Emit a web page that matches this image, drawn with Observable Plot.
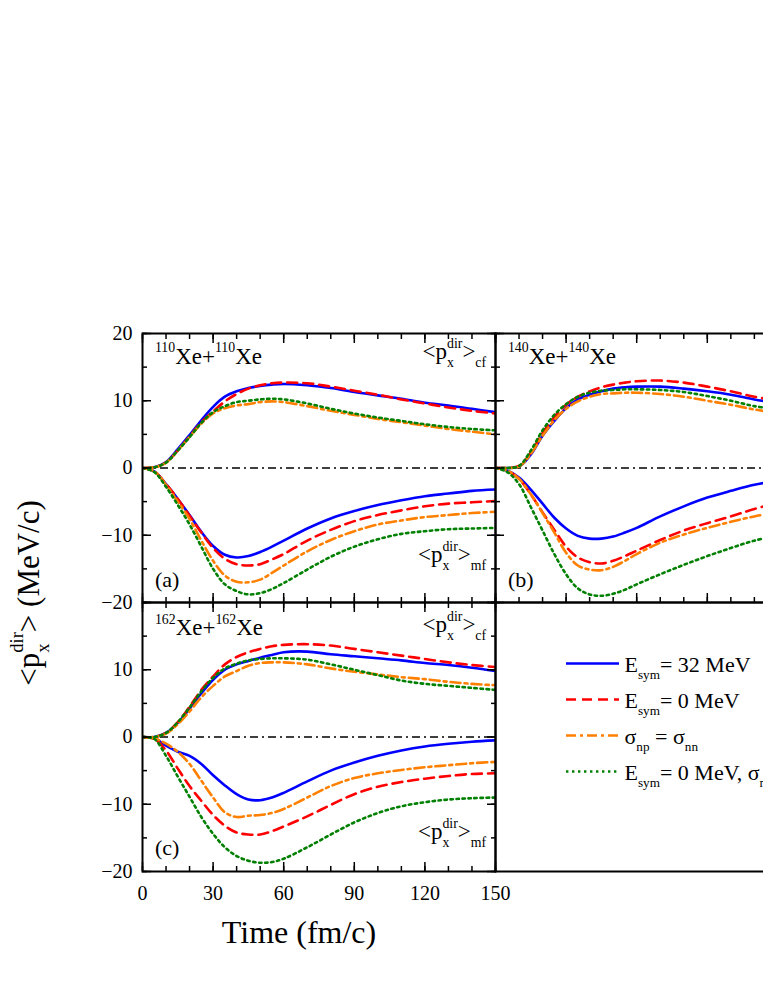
<!DOCTYPE html>
<html><head><meta charset="utf-8">
<script src="https://cdn.jsdelivr.net/npm/d3@7"></script>
<script src="https://cdn.jsdelivr.net/npm/@observablehq/plot@0.6"></script>
<style>
html,body{margin:0;padding:0;background:#fff;overflow:hidden;}
#chart{position:relative;width:763px;height:987px;overflow:hidden;background:#fff;}
#chart svg{position:absolute;left:0;top:0;}
#chart svg, #chart svg text, #chart svg tspan{font-family:"Liberation Serif","Times New Roman",serif !important;}
</style></head><body><div id="chart"></div>
<script>
// ---------------- data ----------------
const T_AC = [0,5,10,15,20,25,30,35,40,45,50,55,60,70,80,90,100,110,120,130,140,150];
const T_B  = [0,5,10,15,20,25,30,35,40,45,50,55,60,70,80,90,100,110,120];

const a_cf_esym32 = [0,0.1,0.9,2.8,4.9,7.1,9.1,10.6,11.4,11.9,12.2,12.4,12.5,12.3,11.9,11.3,10.8,10.3,9.7,9.3,8.8,8.3];
const a_cf_esym0  = [0,0.1,0.8,2.6,4.7,6.8,8.4,9.9,11.0,11.8,12.3,12.6,12.7,12.6,12.1,11.5,10.9,10.2,9.6,9.0,8.5,8.1];
const a_cf_sigma  = [0,0.1,0.8,2.6,4.6,6.6,8.1,8.9,9.3,9.5,9.8,9.9,9.8,9.2,8.5,7.9,7.3,6.8,6.3,5.8,5.4,5.0];
const a_cf_both   = [0,0.1,0.8,2.6,4.6,6.7,8.3,9.2,9.8,10.0,10.2,10.3,10.2,9.6,8.8,8.1,7.5,7.0,6.5,6.1,5.8,5.6];
const a_mf_esym32 = [0,-0.5,-2.4,-4.6,-7.0,-9.5,-11.6,-12.9,-13.3,-13.1,-12.5,-11.7,-10.8,-9.0,-7.5,-6.4,-5.5,-4.8,-4.2,-3.8,-3.4,-3.2];
const a_mf_esym0  = [0,-0.5,-2.4,-4.6,-7.1,-9.6,-11.9,-13.5,-14.3,-14.5,-14.3,-13.6,-12.8,-10.8,-9.2,-7.9,-7.0,-6.3,-5.7,-5.3,-5.1,-4.9];
const a_mf_sigma  = [0,-0.5,-2.5,-5.0,-7.6,-10.8,-13.8,-16.0,-16.9,-17.0,-16.6,-15.6,-14.5,-12.4,-10.7,-9.4,-8.4,-7.8,-7.3,-7.0,-6.7,-6.5];
const a_mf_both   = [0,-0.6,-2.8,-5.5,-8.4,-11.7,-15.0,-17.3,-18.3,-18.8,-18.6,-18.0,-17.1,-15.1,-13.2,-11.7,-10.6,-9.8,-9.4,-9.1,-9.0,-8.9];

const b_cf_esym32 = [0,0,0.2,2.0,4.8,7.0,8.9,10.2,10.9,11.4,11.8,12.0,12.1,12.1,11.8,11.4,10.9,10.2,9.6];
const b_cf_esym0  = [0,0,0.3,2.3,5.2,7.6,9.4,10.6,11.4,12.0,12.4,12.7,12.9,13.0,12.7,12.1,11.4,10.6,10.0];
const b_cf_sigma  = [0,0,0.2,2.1,4.8,7.1,8.8,9.9,10.6,11.0,11.1,11.2,11.2,11.0,10.6,10.0,9.4,8.7,8.2];
const b_cf_both   = [0,0,0.3,2.6,5.6,7.9,9.5,10.6,11.2,11.5,11.6,11.7,11.7,11.6,11.3,10.7,10.0,9.2,8.7];
const b_mf_esym32 = [0,-0.4,-1.4,-3.2,-5.3,-7.4,-9.0,-10.1,-10.5,-10.5,-10.2,-9.6,-8.9,-7.2,-5.7,-4.4,-3.4,-2.5,-1.9];
const b_mf_esym0  = [0,-0.4,-1.6,-3.9,-6.6,-9.2,-11.7,-13.3,-14.0,-14.2,-13.8,-13.1,-12.3,-10.7,-9.3,-8.2,-7.2,-6.1,-5.1];
const b_mf_sigma  = [0,-0.4,-1.6,-3.9,-6.7,-9.6,-12.6,-14.5,-15.1,-15.2,-14.7,-13.8,-12.8,-11.1,-9.9,-8.9,-8.0,-7.2,-6.6];
const b_mf_both   = [0,-0.6,-2.4,-5.8,-9.3,-12.8,-15.8,-17.9,-18.8,-19.0,-18.7,-18.1,-17.3,-15.8,-14.4,-13.1,-11.9,-10.8,-10.0];

const c_cf_esym32 = [0,0,0.6,2.1,4.2,6.5,8.5,10.0,10.8,11.3,11.8,12.2,12.6,12.7,12.3,12.0,11.7,11.4,11.0,10.7,10.3,9.8];
const c_cf_esym0  = [0,0,0.6,2.2,4.5,7.0,9.0,10.8,11.9,12.6,13.1,13.5,13.7,13.8,13.6,13.1,12.6,12.1,11.6,11.1,10.7,10.4];
const c_cf_sigma  = [0,0,0.5,1.9,3.8,5.9,7.6,9.0,9.8,10.6,11.0,11.1,11.1,10.8,10.2,9.7,9.3,8.9,8.6,8.2,7.9,7.7];
const c_cf_both   = [0,0,0.6,2.2,4.4,6.8,8.8,10.2,10.9,11.4,11.6,11.7,11.7,11.5,10.8,10.0,9.2,8.4,7.9,7.6,7.3,7.0];
const c_mf_esym32 = [0,-0.2,-1.3,-2.2,-2.8,-4.0,-5.7,-7.2,-8.5,-9.3,-9.4,-9.0,-8.3,-6.6,-5.0,-3.8,-2.8,-2.0,-1.4,-1.0,-0.7,-0.5];
const c_mf_esym0  = [0,-0.3,-2.0,-4.7,-7.3,-9.5,-11.6,-13.2,-14.2,-14.5,-14.5,-14.0,-13.3,-11.8,-10.1,-8.5,-7.4,-6.7,-6.2,-5.8,-5.5,-5.4];
const c_mf_sigma  = [0,-0.2,-1.0,-2.2,-4.0,-6.5,-9.0,-11.2,-11.9,-11.7,-11.6,-11.3,-10.7,-9.0,-7.3,-6.1,-5.4,-4.9,-4.5,-4.2,-3.9,-3.7];
const c_mf_both   = [0,-0.3,-2.8,-5.9,-8.9,-11.9,-14.4,-16.4,-17.7,-18.4,-18.7,-18.6,-18.1,-16.4,-14.5,-12.7,-11.3,-10.3,-9.7,-9.3,-9.1,-9.0];

const seriesKeys   = ["esym32", "esym0", "sigma", "both"];
const legendLabels = ["E_{sym}= 32 MeV", "E_{sym}= 0 MeV", "σ_{np} = σ_{nn}", "E_{sym}= 0 MeV, σ_{np} = σ_{nn}"];
const panelTitles  = ["^{110}Xe+^{110}Xe", "^{140}Xe+^{140}Xe", "^{162}Xe+^{162}Xe"];
const panelTags    = ["(a)", "(b)", "(c)"];
const cfLabel = "<p_{x}^{dir}>_{cf}";
const mfLabel = "<p_{x}^{dir}>_{mf}";
const yTitle = "<p_{x}^{dir}> (MeV/c)";
const xTitle = "Time (fm/c)";
const xTicksMajor = [0, 30, 60, 90, 120, 150];
const yTicksMajor = [-20, -10, 0, 10, 20];

// ---------------- layout / styles ----------------
const W = 900, H = 987;
const X0 = 142, X1 = 495, X2 = 848;
const Y0 = 333, Y1 = 602, Y2 = 871;
const FONT = "'Liberation Serif', 'Times New Roman', serif";
const styles = {
  esym32: {stroke: "#0000ff", dash: null},
  esym0:  {stroke: "#ff0000", dash: "10,6"},
  sigma:  {stroke: "#ff8000", dash: "10,4,3,4"},
  both:   {stroke: "#008000", dash: "2.4,3.6"}
};
const svgStyle = {background: "transparent", overflow: "visible", maxWidth: "none", fontFamily: FONT, fontSize: "20px"};

function panel({left, right, top, bottom, t, cf, mf, title, tag, yLabels, xLabels, titleY, cfY, mfY, tagY, sideLabels = true, extra = []}) {
  const marks = [
    Plot.ruleY([0], {stroke: "black", strokeWidth: 1.5, strokeDasharray: "8,4,2,4"})
  ];
  seriesKeys.forEach((k, i) => {
    for (const arr of [cf[i], mf[i]]) {
      marks.push(Plot.line(t, {x: t, y: arr, stroke: styles[k].stroke, strokeWidth: 2.6,
        strokeDasharray: styles[k].dash, curve: "catmull-rom", clip: true}));
    }
  });
  // inward ticks on all four sides
  for (const anchor of ["left", "right"]) {
    marks.push(Plot.axisY(d3.range(-20, 21, 5), {anchor, tickSize: -5, fill: "none", strokeWidth: 1.5}));
    marks.push(Plot.axisY(yTicksMajor, {anchor, tickSize: -9, fill: "none", strokeWidth: 1.5}));
  }
  for (const anchor of ["top", "bottom"]) {
    marks.push(Plot.axisX(d3.range(0, 151, 10), {anchor, tickSize: -5, fill: "none", strokeWidth: 1.5}));
    marks.push(Plot.axisX(xTicksMajor, {anchor, tickSize: -9, fill: "none", strokeWidth: 1.5}));
  }
  if (yLabels) marks.push(Plot.axisY(yLabels, {anchor: "left", tickSize: 0, tickPadding: 10, fontSize: 20, label: null}));
  if (xLabels) marks.push(Plot.axisX(xLabels, {anchor: "bottom", tickSize: 0, tickPadding: 14, fontSize: 20, label: null}));
  marks.push(Plot.frame({strokeWidth: 2}));
  marks.push(Plot.text([title], {x: () => 5.3, y: () => titleY, text: d => d, textAnchor: "start", lineAnchor: "bottom", fontSize: 23}));
  marks.push(Plot.text([tag], {x: () => 5.3, y: () => tagY, text: d => d, textAnchor: "start", lineAnchor: "bottom", fontSize: 22}));
  if (sideLabels) {
    marks.push(Plot.text([cfLabel], {x: () => 146, y: () => cfY, text: d => d, textAnchor: "end", lineAnchor: "bottom", fontSize: 23}));
    marks.push(Plot.text([mfLabel], {x: () => 146, y: () => mfY, text: d => d, textAnchor: "end", lineAnchor: "bottom", fontSize: 23}));
  }
  marks.push(...extra);
  return Plot.plot({
    width: W, height: H,
    marginLeft: left, marginRight: W - right, marginTop: top, marginBottom: H - bottom,
    x: {domain: [0, 150], label: null},
    y: {domain: [-20, 20], label: null},
    style: svgStyle,
    marks
  });
}

const figs = [];
figs.push(panel({
  left: X0, right: X1, top: Y0, bottom: Y1, t: T_AC,
  cf: [a_cf_esym32, a_cf_esym0, a_cf_sigma, a_cf_both],
  mf: [a_mf_esym32, a_mf_esym0, a_mf_sigma, a_mf_both],
  title: panelTitles[0], tag: panelTags[0], yLabels: yTicksMajor, xLabels: null,
  titleY: 15.5, cfY: 16.2, mfY: -14.0, tagY: -17.7,
  extra: [Plot.text([yTitle], {frameAnchor: "left", text: d => d, dx: -104, dy: 125, rotate: -90,
    textAnchor: "middle", lineAnchor: "bottom", fontSize: 31})]
}));
figs.push(panel({
  left: X1, right: X2, top: Y0, bottom: Y1, t: T_B,
  cf: [b_cf_esym32, b_cf_esym0, b_cf_sigma, b_cf_both],
  mf: [b_mf_esym32, b_mf_esym0, b_mf_sigma, b_mf_both],
  title: panelTitles[1], tag: panelTags[1], yLabels: null, xLabels: null,
  titleY: 15.5, cfY: 16.2, mfY: -14.0, tagY: -17.7, sideLabels: false
}));
figs.push(panel({
  left: X0, right: X1, top: Y1, bottom: Y2, t: T_AC,
  cf: [c_cf_esym32, c_cf_esym0, c_cf_sigma, c_cf_both],
  mf: [c_mf_esym32, c_mf_esym0, c_mf_sigma, c_mf_both],
  title: panelTitles[2], tag: panelTags[2], yLabels: [-20, -10, 0, 10], xLabels: xTicksMajor,
  titleY: 15.1, cfY: 15.6, mfY: -15.2, tagY: -17.6,
  extra: [Plot.text([xTitle], {frameAnchor: "bottom", text: d => d, dx: -20, dy: 71,
    textAnchor: "middle", lineAnchor: "bottom", fontSize: 32})]
}));
// panel (d): empty frame
figs.push(Plot.plot({
  width: W, height: H, marginLeft: X1, marginRight: W - X2, marginTop: Y1, marginBottom: H - Y2,
  x: {domain: [0, 150], axis: null}, y: {domain: [-20, 20], axis: null},
  style: svgStyle,
  marks: [Plot.frame({strokeWidth: 2})]
}));
// legend inside panel (d)
figs.push(Plot.plot({
  width: W, height: H, marginLeft: 566, marginRight: W - 619, marginTop: 662, marginBottom: H - 772,
  x: {domain: [0, 1], axis: null},
  y: {type: "point", domain: seriesKeys, padding: 0, axis: null},
  style: svgStyle,
  marks: [
    ...seriesKeys.map(k => Plot.ruleY([k], {y: d => d, x1: () => 0, x2: () => 1,
      stroke: styles[k].stroke, strokeWidth: 2.6, strokeDasharray: styles[k].dash})),
    Plot.text(seriesKeys, {y: d => d, x: () => 1, text: (d, i) => legendLabels[i], dx: 5, dy: 8,
      textAnchor: "start", lineAnchor: "bottom", fontSize: 22})
  ]
}));

const chart = document.getElementById("chart");
for (const f of figs) chart.appendChild(f);

// rich text: ^{...} superscript, _{...} subscript (sub followed by sup stacks)
function richify(root) {
  const NS = "http://www.w3.org/2000/svg";
  root.querySelectorAll("text").forEach(el => {
    const s = el.textContent;
    if (!/[\^_]\{/.test(s)) return;
    const base = parseFloat(getComputedStyle(el).fontSize) || 20;
    el.textContent = "";
    let cur = 0, prevSub = null;
    for (const m of s.matchAll(/([\^_])\{([^}]*)\}|([^\^_]+)/g)) {
      const ts = document.createElementNS(NS, "tspan");
      let target = 0;
      if (m[1]) {
        ts.textContent = m[2];
        ts.setAttribute("font-size", (0.6 * base).toFixed(1));
        target = m[1] === "^" ? -0.5 * base : 0.34 * base;
      } else {
        ts.textContent = m[3];
      }
      const dy = target - cur;
      if (dy) ts.setAttribute("dy", dy.toFixed(1));
      cur = target;
      el.appendChild(ts);
      if (m[1] === "^" && prevSub) ts.setAttribute("dx", (-prevSub.getComputedTextLength()).toFixed(1));
      prevSub = m[1] === "_" ? ts : null;
    }
  });
}
richify(chart);
</script>
</body></html>
